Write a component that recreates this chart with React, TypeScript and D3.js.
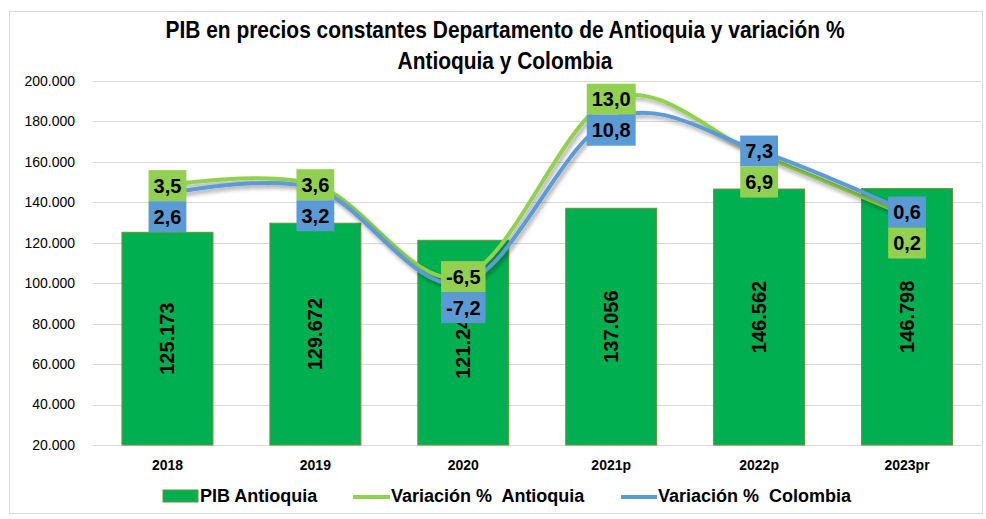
import React, { useEffect, useRef } from "react";
import * as d3 from "d3";

// Datos
const years = ["2018", "2019", "2020", "2021p", "2022p", "2023pr"];
const pibAntioquia = [125173, 129672, 121240, 137056, 146562, 146798];
const varAntioquia = [3.5, 3.6, -6.5, 13.0, 6.9, 0.2];
const varColombia = [2.6, 3.2, -7.2, 10.8, 7.3, 0.6];
const yTicks = [20000, 40000, 60000, 80000, 100000, 120000, 140000, 160000, 180000, 200000];

const TITLE = ["PIB en precios constantes Departamento de Antioquia y variación %", "Antioquia y Colombia"];
const LEGEND = ["PIB Antioquia", "Variación %  Antioquia", "Variación %  Colombia"];

const GREEN_BAR = "#00B050";
const GREEN_LINE = "#92D050";
const BLUE_LINE = "#5B9BD5";
const FONT = "'Liberation Sans', Arial, sans-serif";

const locale = d3.formatLocale({ decimal: ",", thousands: ".", grouping: [3], currency: ["$", ""], minus: "-" });
const fmtInt = locale.format(",.0f");
const fmtPct = locale.format(".1f");

const W = 986;
const H = 519;

const App: React.FC = () => {
    const svgRef = useRef<SVGSVGElement>(null);

    useEffect(() => {
        if (!svgRef.current) return;
        const svg = d3.select(svgRef.current);
        svg.selectAll("*").remove();

        const defs = svg.append("defs");
        const sh = defs.append("filter").attr("id", "line-shadow")
            .attr("x", "-10%").attr("y", "-20%").attr("width", "130%").attr("height", "150%");
        sh.append("feDropShadow").attr("dx", 2).attr("dy", 3).attr("stdDeviation", 2)
            .attr("flood-color", "#000").attr("flood-opacity", 0.35);

        // Fondo y borde del área del gráfico
        svg.append("rect").attr("width", W).attr("height", H).attr("fill", "#fff");
        svg.append("rect")
            .attr("x", 9.5).attr("y", 11.5).attr("width", 973).attr("height", 502)
            .attr("fill", "none").attr("stroke", "#D9D9D9");

        // Título (condensado horizontalmente, tipo Calibri)
        const SX = 0.91;
        TITLE.forEach((t, i) => {
            svg.append("g")
                .attr("transform", `translate(505,${38 + i * 31}) scale(${SX},1)`)
                .append("text")
                .attr("text-anchor", "middle")
                .attr("font-family", FONT).attr("font-weight", "700").attr("font-size", 23)
                .text(t);
        });

        // Escalas
        const x = d3.scaleBand<string>().domain(years).range([93.5, 981]).paddingInner(0.385).paddingOuter(0.1925);
        const y = d3.scaleLinear().domain([20000, 200000]).range([445, 81]);
        const y2 = d3.scaleLinear().domain([-25, 15]).range([445, 81]);

        // Cuadrícula
        svg.append("g").selectAll("line").data(yTicks).enter().append("line")
            .attr("x1", 93).attr("x2", 981)
            .attr("y1", (d) => Math.round(y(d)) + 0.5).attr("y2", (d) => Math.round(y(d)) + 0.5)
            .attr("stroke", "#D9D9D9").attr("stroke-width", 1);

        // Eje Y
        svg.append("g").selectAll("text").data(yTicks).enter().append("text")
            .attr("x", 75).attr("y", (d) => y(d)).attr("dy", "0.35em")
            .attr("text-anchor", "end").attr("font-family", FONT).attr("font-size", 14)
            .attr("fill", "#000").text((d) => fmtInt(d));

        // Eje X
        svg.append("g").selectAll("text").data(years).enter().append("text")
            .attr("x", (d) => x(d)! + x.bandwidth() / 2).attr("y", 465).attr("dy", "0.35em")
            .attr("text-anchor", "middle").attr("font-family", FONT).attr("font-weight", "700")
            .attr("font-size", 14).text((d) => d);

        // Barras
        svg.append("g").selectAll("rect").data(pibAntioquia).enter().append("rect")
            .attr("x", (_d, i) => x(years[i])!)
            .attr("y", (d) => y(d))
            .attr("width", x.bandwidth())
            .attr("height", (d) => y(20000) - y(d))
            .attr("fill", GREEN_BAR).attr("stroke", "#6F8F3A").attr("stroke-width", 1);

        // Etiquetas de barras (verticales)
        svg.append("g").selectAll("text").data(pibAntioquia).enter().append("text")
            .attr("transform", (d, i) => {
                const cx = x(years[i])! + x.bandwidth() / 2;
                const cy = (y(d) + y(20000)) / 2;
                return `translate(${cx},${cy}) rotate(-90)`;
            })
            .attr("dy", "0.35em").attr("text-anchor", "middle")
            .attr("font-family", FONT).attr("font-weight", "700").attr("font-size", 20)
            .text((d) => fmtInt(d));

        // Líneas suavizadas
        const line = d3.line<number>()
            .x((_d, i) => x(years[i])! + x.bandwidth() / 2)
            .y((d) => y2(d))
            .curve(d3.curveCatmullRom.alpha(0));

        [{ data: varAntioquia, color: GREEN_LINE }, { data: varColombia, color: BLUE_LINE }].forEach((s) => {
            svg.append("path")
                .datum(s.data)
                .attr("fill", "none")
                .attr("stroke", s.color)
                .attr("stroke-width", 4)
                .attr("stroke-linecap", "round")
                .attr("filter", "url(#line-shadow)")
                .attr("d", line);
        });

        // Etiquetas de datos (cajas apiladas)
        const labelsG = svg.append("g");
        const BOX_H = 31;
        years.forEach((yr, i) => {
            const cx = x(yr)! + x.bandwidth() / 2;
            const a = varAntioquia[i];
            const c = varColombia[i];
            const upper = a >= c ? { v: a, color: GREEN_LINE } : { v: c, color: BLUE_LINE };
            const lower = a >= c ? { v: c, color: BLUE_LINE } : { v: a, color: GREEN_LINE };
            const top = y2(upper.v) - BOX_H / 2;
            [upper, lower].forEach((lab, k) => {
                const g = labelsG.append("g");
                const t = g.append("text")
                    .attr("x", cx).attr("y", top + k * BOX_H + BOX_H / 2).attr("dy", "0.36em")
                    .attr("text-anchor", "middle").attr("font-family", FONT)
                    .attr("font-weight", "700").attr("font-size", 20).attr("fill", "#000")
                    .text(fmtPct(lab.v));
                const tw = (t.node() as SVGTextElement).getComputedTextLength();
                const bw = tw + 10;
                g.insert("rect", "text")
                    .attr("x", cx - bw / 2).attr("y", top + k * BOX_H)
                    .attr("width", bw).attr("height", BOX_H)
                    .attr("fill", lab.color);
            });
        });

        // Leyenda
        const leg = svg.append("g").attr("font-family", FONT).attr("font-weight", "700")
            .attr("font-size", 18);
        leg.append("rect").attr("x", 163).attr("y", 490).attr("width", 35).attr("height", 12)
            .attr("fill", GREEN_BAR).attr("stroke", "#6F8F3A");
        leg.append("text").attr("x", 200).attr("y", 496).attr("dy", "0.35em")
            .attr("xml:space", "preserve").text(LEGEND[0]);
        leg.append("line").attr("x1", 353).attr("x2", 390).attr("y1", 497).attr("y2", 497)
            .attr("stroke", GREEN_LINE).attr("stroke-width", 4);
        leg.append("text").attr("x", 391).attr("y", 496).attr("dy", "0.35em")
            .attr("xml:space", "preserve").text(LEGEND[1]);
        leg.append("line").attr("x1", 621).attr("x2", 657).attr("y1", 497).attr("y2", 497)
            .attr("stroke", BLUE_LINE).attr("stroke-width", 4);
        leg.append("text").attr("x", 658).attr("y", 496).attr("dy", "0.35em")
            .attr("xml:space", "preserve").text(LEGEND[2]);
    }, []);

    return (
        <svg
            ref={svgRef}
            width={W}
            height={H}
            style={{ position: "absolute", left: 0, top: 0, display: "block" }}
        />
    );
};

export default App;
